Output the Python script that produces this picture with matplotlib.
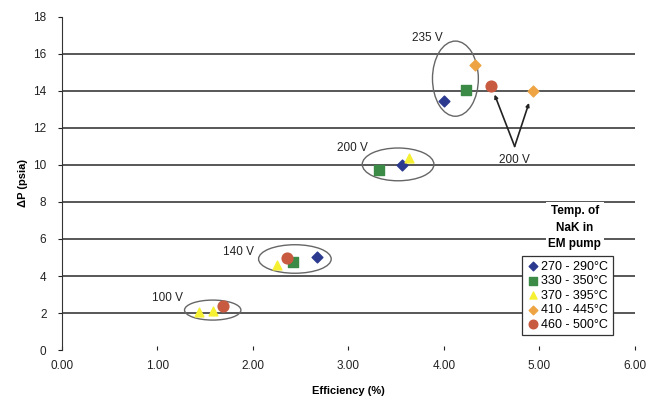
import matplotlib
matplotlib.use("Agg")
import matplotlib.pyplot as plt
from matplotlib.patches import Ellipse
from matplotlib import font_manager

# pick a narrow font if there is one
installed = {f.name for f in font_manager.fontManager.ttflist}
fam = ['Liberation Sans Narrow'] if 'Liberation Sans Narrow' in installed else ['Liberation Sans']
plt.rcParams['font.family'] = fam + ['DejaVu Sans']

# efficiency (%) / delta P (psia) for each NaK temperature range
labels = ['270 - 290°C', '330 - 350°C', '370 - 395°C', '410 - 445°C', '460 - 500°C']
eff_270 = [2.67, 3.56, 4.00]
dp_270 = [5.05, 10.02, 13.45]
eff_330 = [2.42, 3.32, 4.23]
dp_330 = [4.78, 9.71, 14.03]
eff_370 = [1.44, 1.58, 2.25, 3.63]
dp_370 = [2.08, 2.11, 4.60, 10.38]
eff_410 = [4.32, 4.93]
dp_410 = [15.40, 14.00]
eff_460 = [1.69, 2.36, 4.49]
dp_460 = [2.40, 5.00, 14.26]

# voltage groups: label, label pos, ellipse centre / size
volt_labels = ['100 V', '140 V', '200 V', '235 V']
volt_text_x = [1.11, 1.85, 3.04, 3.83]
volt_text_y = [2.80, 5.32, 10.92, 16.88]
ell_x = [1.58, 2.44, 3.52, 4.12]
ell_y = [2.16, 4.92, 10.03, 14.66]
ell_w = [0.59, 0.76, 0.75, 0.48]
ell_h = [1.08, 1.54, 1.77, 4.06]

xticks = [0, 1, 2, 3, 4, 5, 6]
yticks = [0, 2, 4, 6, 8, 10, 12, 14, 16, 18]

fig = plt.figure(figsize=(6.5, 4.01), dpi=100)
ax = fig.add_axes([0.095, 0.127, 0.882, 0.831])

ax.hlines(yticks[1:-1], 0, 6, color='#2a2a2a', lw=1.1, zorder=1)

ax.scatter(eff_270, dp_270, marker='D', s=30, c='#2b3a8f', zorder=3, label=labels[0])
ax.scatter(eff_330, dp_330, marker='s', s=55, c='#3b8a45', zorder=3, label=labels[1])
ax.scatter(eff_370, dp_370, marker='^', s=40, c='#f5f032', zorder=3, label=labels[2])
ax.scatter(eff_410, dp_410, marker='D', s=30, c='#eea443', zorder=3, label=labels[3])
ax.scatter(eff_460, dp_460, marker='o', s=60, c='#c85a40', zorder=3, label=labels[4])

for i in range(len(volt_labels)):
    ax.add_patch(Ellipse((ell_x[i], ell_y[i]), ell_w[i], ell_h[i], fill=False,
                         ec='#666666', lw=1.0, zorder=2))
    ax.text(volt_text_x[i], volt_text_y[i], volt_labels[i], fontsize=8.5,
            ha='center', va='center', color='#222222')

# 200 V arrows
ax.text(4.74, 10.29, '200 V', fontsize=8.5, ha='center', va='center', color='#222222')
for tx, ty in [(4.53, 13.8), (4.89, 13.35)]:
    ax.annotate('', xy=(tx, ty), xytext=(4.74, 11.0),
                arrowprops=dict(arrowstyle='-|>', color='#222222', lw=1.2,
                                mutation_scale=5, shrinkA=0, shrinkB=0))

ax.set_xlim(0, 6)
ax.set_ylim(0, 18)
ax.set_xticks(xticks)
ax.set_xticklabels(['%.2f' % v for v in xticks])
ax.set_yticks(yticks)
ax.tick_params(axis='x', direction='in', length=3, pad=7, labelsize=8.5, colors='#222222')
ax.tick_params(axis='y', direction='out', length=3, pad=8, labelsize=8.5, colors='#222222')
for s in ['top', 'right', 'bottom']:
    ax.spines[s].set_visible(False)
ax.spines['left'].set_color('#333333')

ax.set_xlabel('Efficiency (%)', fontsize=8, fontweight='bold', labelpad=10)
ax.set_ylabel('ΔP (psia)', fontsize=8, fontweight='bold', labelpad=4)

leg = ax.legend(loc='lower left', bbox_to_anchor=(0.803, 0.045), borderaxespad=0,
                fontsize=9, frameon=True, fancybox=False, edgecolor='#333333',
                framealpha=1, handletextpad=0.2, handlelength=1.0,
                labelspacing=0.2, borderpad=0.35, markerscale=0.8)
leg.get_frame().set_linewidth(0.9)

ax.text(0.895, 0.367, 'Temp. of\nNaK in\nEM pump', transform=ax.transAxes,
        ha='center', va='center', fontsize=8.5, fontweight='bold', linespacing=1.5,
        bbox=dict(facecolor='white', edgecolor='none', pad=2), zorder=4)

fig.savefig('out.png', dpi=100)
